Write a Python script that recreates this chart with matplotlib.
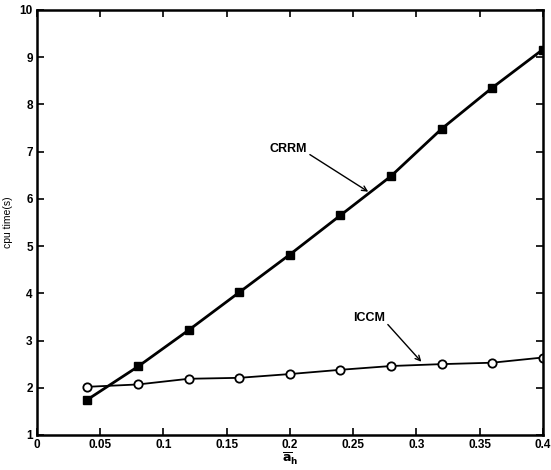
import matplotlib
matplotlib.use("Agg")
import matplotlib.pyplot as plt

a_h = [0.04, 0.08, 0.12, 0.16, 0.20, 0.24, 0.28, 0.32, 0.36, 0.40]
crrm = [1.75, 2.45, 3.22, 4.02, 4.82, 5.65, 6.48, 7.48, 8.35, 9.16]
iccm = [2.02, 2.07, 2.19, 2.21, 2.29, 2.38, 2.46, 2.50, 2.53, 2.64]

xticks = [0, 0.05, 0.1, 0.15, 0.2, 0.25, 0.3, 0.35, 0.4]
xticklabels = ["0", "0.05", "0.1", "0.15", "0.2", "0.25", "0.3", "0.35", "0.4"]
yticks = list(range(1, 11))

plt.rcParams['font.family'] = ['Liberation Sans', 'DejaVu Sans']
plt.rcParams['font.weight'] = 'bold'

fig = plt.figure(figsize=(5.51, 4.70), dpi=100)
ax = fig.add_axes([0.067, 0.0745, 0.918, 0.9045])

ax.plot(a_h, crrm, color='black', linewidth=2.0, marker='s', markersize=5.5,
        markerfacecolor='black', markeredgecolor='black')
ax.plot(a_h, iccm, color='black', linewidth=1.3, marker='o', markersize=6,
        markerfacecolor='white', markeredgecolor='black', markeredgewidth=1.3)

ax.set_xlim(0, 0.4)
ax.set_ylim(1, 10)
ax.set_xticks(xticks)
ax.set_xticklabels(xticklabels)
ax.set_yticks(yticks)
ax.tick_params(direction='in', top=True, right=True, length=5, width=1.2,
               labelsize=8.5, pad=3)
for s in ax.spines.values():
    s.set_linewidth(1.8)

ax.set_xlabel(r'$\overline{\mathbf{a}}_\mathbf{h}$', fontsize=9, labelpad=0)
ax.set_ylabel('cpu time(s)', fontsize=7.5, labelpad=5)

ax.annotate('CRRM', xy=(0.262, 6.15), xytext=(0.184, 7.05), fontsize=9,
            fontweight='bold', ha='left', va='center',
            arrowprops=dict(arrowstyle='->', color='black', lw=1.0,
                            shrinkA=0, shrinkB=0,
                            relpos=(1.0, 0.2)))
ax.annotate('ICCM', xy=(0.304, 2.55), xytext=(0.25, 3.48), fontsize=9,
            fontweight='bold', ha='left', va='center',
            arrowprops=dict(arrowstyle='->', color='black', lw=1.0,
                            shrinkA=0, shrinkB=0,
                            relpos=(1.0, 0.2)))

fig.savefig('out.png', dpi=100)
